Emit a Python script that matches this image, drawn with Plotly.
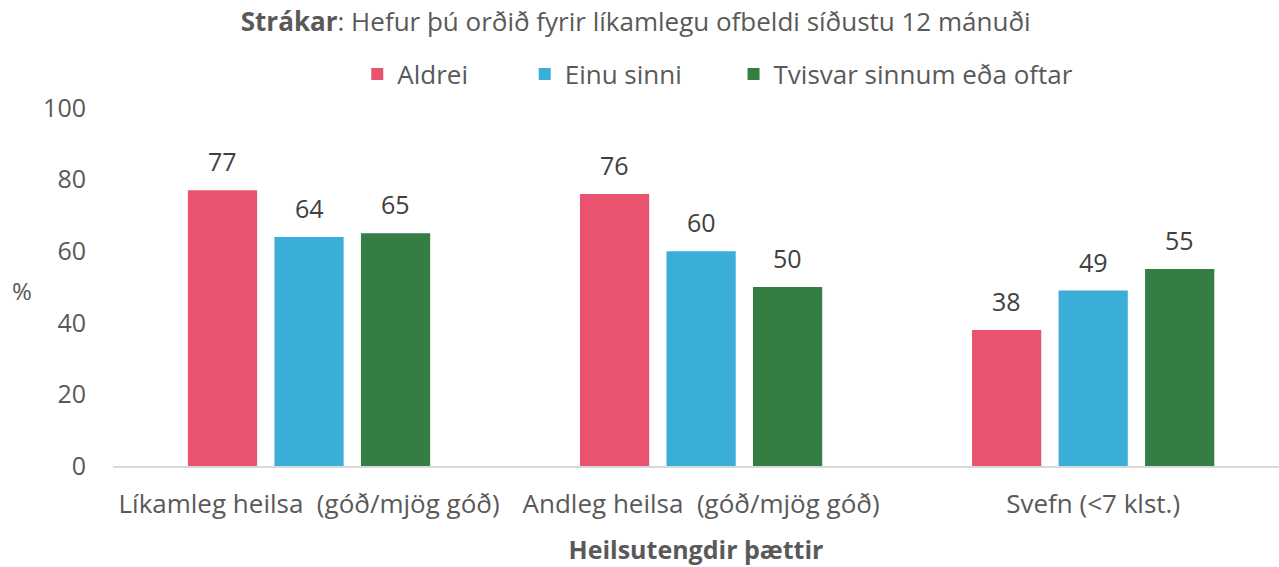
import plotly.graph_objects as go

categories = ["Líkamleg heilsa  (góð/mjög góð)", "Andleg heilsa  (góð/mjög góð)", "Svefn (<7 klst.)"]
series_names = ["Aldrei", "Einu sinni", "Tvisvar sinnum eða oftar"]
aldrei = [77, 76, 38]
einu_sinni = [64, 60, 49]
tvisvar = [65, 50, 55]
colors = ["#E9536F", "#3AADD9", "#357E43"]
y_ticks = [0, 20, 40, 60, 80, 100]

FONT = "Open Sans"
TXT = "#595959"
BARGAP = 0.338
GROUPGAP = 0.2

legend_ids = ["legend", "legend2", "legend3"]
legend_x = [0.2095, 0.3531, 0.5322]

fig = go.Figure()
annotations = []
all_series = [aldrei, einu_sinni, tvisvar]
n = len(all_series)
slot = (1 - BARGAP) / n
for i, (name, vals, col) in enumerate(zip(series_names, all_series, colors)):
    fig.add_trace(go.Bar(
        x=categories, y=vals, name=name, marker=dict(color=col, line=dict(width=0)),
        legend=legend_ids[i], showlegend=True,
    ))
    for j, v in enumerate(vals):
        annotations.append(dict(
            x=j + (i - (n - 1) / 2) * slot, y=v, xref="x", yref="y",
            text=str(v), showarrow=False, yanchor="bottom", yshift=10,
            font=dict(family=FONT, size=25, color="#404040")))

annotations.append(dict(text="%", xref="paper", yref="paper", x=-0.078, y=0.49,
                        showarrow=False, xanchor="center", yanchor="middle",
                        font=dict(family=FONT, size=24, color=TXT)))

legend_common = dict(orientation="h", xanchor="left", y=1.095, yanchor="middle",
                     font=dict(family=FONT, size=26, color=TXT), itemwidth=30,
                     bgcolor="rgba(0,0,0,0)")

fig.update_layout(
    width=1279, height=567,
    showlegend=True,
    margin=dict(l=113, r=0, t=108, b=101, autoexpand=False),
    paper_bgcolor="white", plot_bgcolor="white",
    font=dict(family=FONT, color=TXT, size=25),
    barmode="group", bargap=BARGAP, bargroupgap=GROUPGAP,
    title=dict(text="<b>Strákar</b>: Hefur þú orðið fyrir líkamlegu ofbeldi síðustu 12 mánuði",
               x=0.497, xanchor="center", y=0.961, yanchor="middle",
               font=dict(family=FONT, size=26, color=TXT)),
    legend=dict(x=legend_x[0], **legend_common),
    legend2=dict(x=legend_x[1], **legend_common),
    legend3=dict(x=legend_x[2], **legend_common),
    xaxis=dict(showline=True, linecolor="#D9D9D9", linewidth=1.5, ticks="",
               range=[-0.5, 2.474],
               automargin=False, ticklabelstandoff=14,
               tickfont=dict(family=FONT, size=26, color=TXT),
               title=dict(text="<b>Heilsutengdir þættir</b>", standoff=22,
                          font=dict(family=FONT, size=25, color=TXT))),
    yaxis=dict(range=[0, 100], tickvals=y_ticks, showgrid=False, zeroline=False,
               showline=False, ticks="", ticklabelstandoff=26, automargin=False,
               tickfont=dict(family=FONT, size=25, color=TXT)),
    annotations=annotations,
)

fig.write_html("out.html", config={"displayModeBar": False},
               post_script="document.body.style.margin='0';document.body.style.padding='0';")
